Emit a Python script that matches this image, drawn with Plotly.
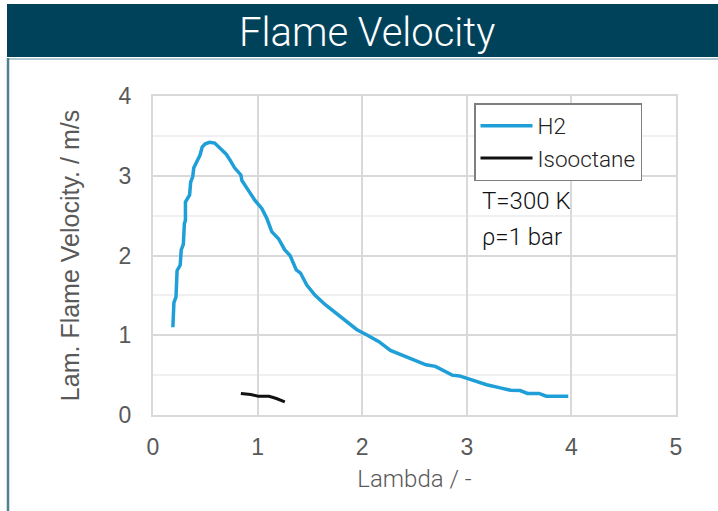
import plotly.graph_objects as go

# H2 laminar flame velocity
h2_lambda = [0.19, 0.20, 0.22, 0.23, 0.26, 0.27, 0.29, 0.30, 0.31, 0.31, 0.35, 0.36, 0.38, 0.39,
             0.45, 0.47, 0.50, 0.54, 0.59, 0.64, 0.70, 0.74, 0.78, 0.84, 0.85, 0.91, 0.975, 1.04,
             1.09, 1.135, 1.20, 1.26, 1.31, 1.37, 1.41, 1.47, 1.55, 1.65, 1.71, 1.82, 1.89, 1.95,
             2.05, 2.16, 2.27, 2.42, 2.54, 2.61, 2.70, 2.79, 2.86, 2.93, 3.05, 3.19, 3.32, 3.42,
             3.51, 3.58, 3.69, 3.76, 3.86, 3.97]
h2_velocity = [1.10, 1.41, 1.48, 1.81, 1.88, 2.07, 2.14, 2.40, 2.44, 2.67, 2.76, 2.92, 2.99, 3.10,
               3.26, 3.36, 3.40, 3.42, 3.41, 3.34, 3.27, 3.19, 3.10, 3.01, 2.94, 2.82, 2.69, 2.59,
               2.46, 2.30, 2.21, 2.07, 2.00, 1.82, 1.78, 1.63, 1.50, 1.38, 1.32, 1.20, 1.14, 1.07,
               1.00, 0.92, 0.81, 0.73, 0.67, 0.63, 0.61, 0.545, 0.50, 0.49, 0.44, 0.38, 0.34, 0.31,
               0.306, 0.27, 0.27, 0.235, 0.235, 0.235]

# Isooctane laminar flame velocity
iso_lambda = [0.84, 0.935, 1.006, 1.11, 1.18, 1.26]
iso_velocity = [0.27, 0.256, 0.235, 0.235, 0.207, 0.165]

x_ticks = [0, 1, 2, 3, 4, 5]
y_ticks = [0, 1, 2, 3, 4]

title_text = "Flame Velocity"
x_title = "Lambda / -"
y_title = "Lam. Flame Velocity. / m/s"
notes = ["T=300 K", "ρ=1 bar"]

W, H = 718, 511
L, R, T, B = 153, 42, 96, 96
pw, ph = W - L - R, H - T - B


def px(x):
    return (x - L) / pw


def py(y):
    return (H - B - y) / ph


fig = go.Figure()
fig.add_trace(go.Scatter(x=h2_lambda, y=h2_velocity, mode="lines", name="H2",
                         line=dict(color="#1f9fd8", width=3.5)))
fig.add_trace(go.Scatter(x=iso_lambda, y=iso_velocity, mode="lines", name="Isooctane",
                         line=dict(color="#111111", width=3)))

grid = "#d9d9d9"
fig.update_xaxes(range=[0, 5], tickvals=x_ticks, showgrid=True, gridcolor=grid, gridwidth=2,
                 showline=True, linecolor=grid, linewidth=2, mirror=True, zeroline=False,
                 ticks="", ticklabelstandoff=10,
                 tickfont=dict(family="Liberation Sans", size=23, color="#595959"),
                 title=dict(text=x_title, standoff=12,
                            font=dict(family="Roboto", size=24, color="#595959", weight=300)))
fig.update_yaxes(range=[0, 4], tickvals=y_ticks, showgrid=True, gridcolor=grid, gridwidth=2,
                 minor=dict(dtick=0.5, showgrid=True, gridcolor="#f0f0f0", gridwidth=2),
                 showline=True, linecolor=grid, linewidth=2, mirror=True, zeroline=False,
                 ticks="", ticklabelstandoff=15,
                 tickfont=dict(family="Liberation Sans", size=23, color="#595959"),
                 title=dict(text=y_title, standoff=32,
                            font=dict(family="Liberation Sans", size=25, color="#595959")))

shapes = [
    dict(type="rect", xref="paper", yref="paper", x0=px(7), x1=px(718), y0=py(57), y1=py(4),
         fillcolor="#01425b", line=dict(width=0), layer="below"),
    dict(type="line", xref="paper", yref="paper", x0=px(7), x1=px(718), y0=py(59), y1=py(59),
         line=dict(color="#9bb8c3", width=1.5)),
    dict(type="line", xref="paper", yref="paper", x0=px(8), x1=px(8), y0=py(58), y1=py(520),
         line=dict(color="#4e8090", width=2.5)),
]

annotations = [
    dict(text=title_text, xref="paper", yref="paper", x=px(367), y=py(32), showarrow=False,
         xanchor="center", yanchor="middle",
         font=dict(family="Roboto", size=40, color="white", weight=300)),
    dict(text=notes[0], xref="paper", yref="paper", x=px(480), y=py(201), showarrow=False,
         xanchor="left", yanchor="middle",
         font=dict(family="Roboto", size=24, color="#111111", weight=300)),
    dict(text=notes[1], xref="paper", yref="paper", x=px(480), y=py(237), showarrow=False,
         xanchor="left", yanchor="middle",
         font=dict(family="Roboto", size=24, color="#111111", weight=300)),
]

fig.update_layout(
    width=W, height=H, margin=dict(l=L, r=R, t=T, b=B),
    paper_bgcolor="white", plot_bgcolor="white",
    shapes=shapes, annotations=annotations,
    showlegend=True,
    legend=dict(x=px(474), y=py(103), xanchor="left", yanchor="top",
                bgcolor="white", bordercolor="#7f7f7f", borderwidth=1.5,
                font=dict(family="Roboto", size=22.5, color="#222222", weight=300),
                itemwidth=52, tracegroupgap=0),
)

fig.write_html("out.html")
